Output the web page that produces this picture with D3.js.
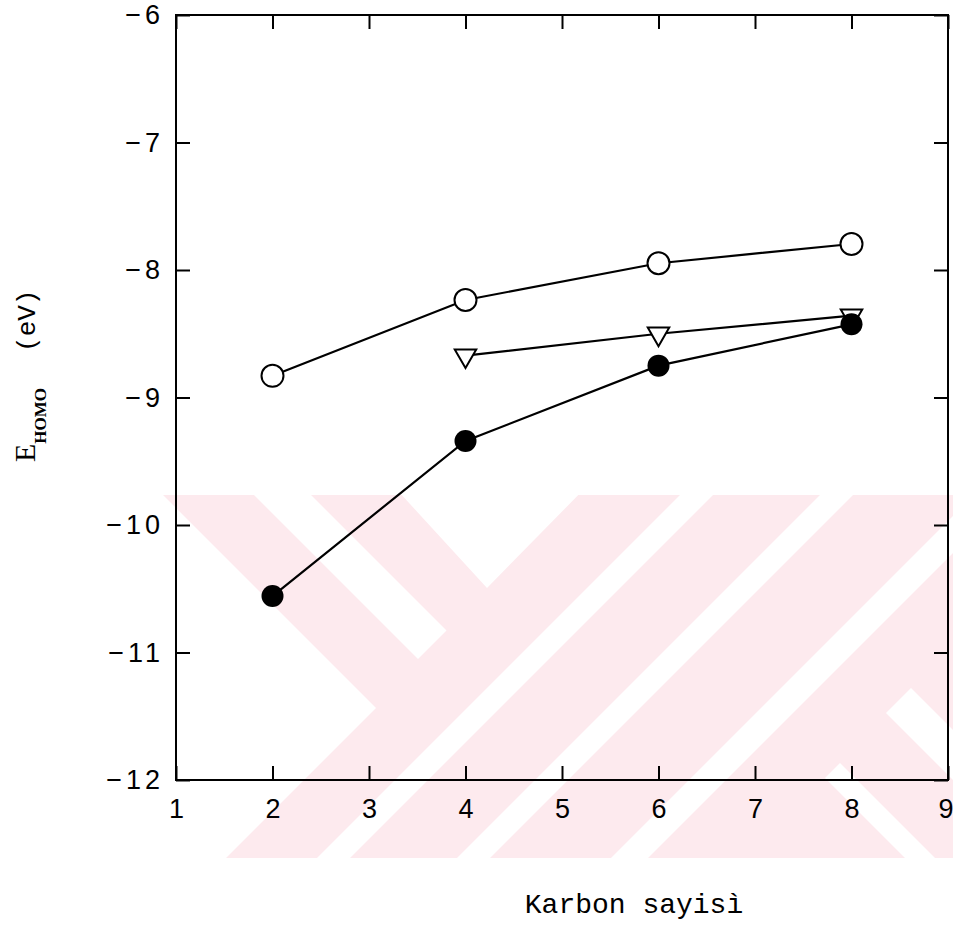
<!DOCTYPE html>
<html><head><meta charset="utf-8">
<script src="https://cdn.jsdelivr.net/npm/d3@7"></script>
<style>body{margin:0;background:#fff}</style>
</head><body><svg id="c" width="953" height="927"></svg>
<script>
// ---- data ----
const openX = [2, 4, 6, 8];
const openY = [-8.83, -8.235, -7.947, -7.796];
const triX = [4, 6, 8];
const triY = [-8.672, -8.50, -8.358];
const filledX = [2, 4, 6, 8];
const filledY = [-10.557, -9.341, -8.75, -8.426];
const xTickValues = [1, 2, 3, 4, 5, 6, 7, 8, 9];
const xTickLabels = ["1", "2", "3", "4", "5", "6", "7", "8", "9"];
const yTickValues = [-12, -11, -10, -9, -8, -7, -6];
const yTickLabels = ["−12", "−11", "−10", "−9", "−8", "−7", "−6"];
const xTitle = "Karbon sayisì";

// ---- layout ----
const svg = d3.select("#c");
const L = 176, R = 948, T = 15, B = 780;
const x = d3.scaleLinear().domain([1, 9]).range([L, R]);
const y = d3.scaleLinear().domain([-12, -6]).range([B, T]);

// ---- watermark (decorative background) ----
const pink = "#fdeaee";
svg.append("clipPath").attr("id", "wm").append("rect")
  .attr("x", 150).attr("y", 495).attr("width", 803).attr("height", 363);
const wm = svg.append("g").attr("clip-path", "url(#wm)");
wm.append("rect").attr("x", 150).attr("y", 495).attr("width", 803).attr("height", 363).attr("fill", pink);
const whiteShapes = [
  [[100,480],[148,480],[376,708],[221,863],[100,863]],
  [[239,480],[296,480],[446.5,630.5],[418,659]],
  [[388,480],[593,480],[487,588]],
  [[695,480],[728,480],[338,870],[305,870]],
  [[835,480],[868,480],[478,870],[445,870]],
  [[989,480],[1026,480],[636,870],[599,870]],
  [[886,713],[911,688],[1011,788],[986,813]],
  [[825,778],[840,763],[1040,963],[1025,978]]
];
wm.selectAll("polygon.w").data(whiteShapes).join("polygon")
  .attr("points", d => d.map(p => p.join(",")).join(" "))
  .attr("fill", "#fff");

// ---- axes ----
const tickFont = "'Liberation Sans', Arial, sans-serif";
const gB = svg.append("g").attr("transform", `translate(0,${B})`)
  .call(d3.axisBottom(x).tickValues(xTickValues).tickFormat((d, i) => xTickLabels[i])
    .tickSizeInner(-14).tickSizeOuter(0).tickPadding(19));
const gT = svg.append("g").attr("transform", `translate(0,${T})`)
  .call(d3.axisTop(x).tickValues(xTickValues).tickFormat("").tickSizeInner(-14).tickSizeOuter(0));
const gL = svg.append("g").attr("transform", `translate(${L},0)`)
  .call(d3.axisLeft(y).tickValues(yTickValues).tickFormat((d, i) => yTickLabels[i])
    .tickSizeInner(-14).tickSizeOuter(0).tickPadding(12));
const gR = svg.append("g").attr("transform", `translate(${R},0)`)
  .call(d3.axisRight(y).tickValues(yTickValues).tickFormat("").tickSizeInner(-14).tickSizeOuter(0));
[gB, gT, gL, gR].forEach(g => {
  g.select(".domain").remove();
  g.selectAll(".tick line").attr("stroke", "#000").attr("stroke-width", 2);
  g.selectAll(".tick text").attr("fill", "#000").style("font-family", tickFont)
    .style("font-size", "27px");
});
gL.selectAll(".tick text").style("letter-spacing", "4px");
// last x label sits at the page edge; keep it inside the page
gB.selectAll(".tick text").filter(d => d === 9).attr("text-anchor", "end").attr("x", 5);
svg.append("rect").attr("x", L).attr("y", T).attr("width", R - L).attr("height", B - T)
  .attr("fill", "none").attr("stroke", "#000").attr("stroke-width", 2);

// ---- series ----
const line = d3.line().x(d => x(d[0])).y(d => y(d[1]));
const openData = openX.map((v, i) => [v, openY[i]]);
const triData = triX.map((v, i) => [v, triY[i]]);
const filledData = filledX.map((v, i) => [v, filledY[i]]);
[openData, triData, filledData].forEach(d => {
  svg.append("path").datum(d).attr("d", line).attr("fill", "none")
    .attr("stroke", "#000").attr("stroke-width", 2.2);
});
svg.selectAll("circle.open").data(openData).join("circle").attr("class", "open")
  .attr("cx", d => x(d[0])).attr("cy", d => y(d[1])).attr("r", 11)
  .attr("fill", "#fff").attr("stroke", "#000").attr("stroke-width", 2);
const tri = d3.symbol().type(d3.symbolTriangle).size(200);
svg.selectAll("path.tri").data(triData).join("path").attr("class", "tri")
  .attr("d", tri)
  .attr("transform", d => `translate(${x(d[0])},${y(d[1])}) rotate(180)`)
  .attr("fill", "#fff").attr("stroke", "#000").attr("stroke-width", 2);
svg.selectAll("circle.filled").data(filledData).join("circle").attr("class", "filled")
  .attr("cx", d => x(d[0])).attr("cy", d => y(d[1])).attr("r", 11)
  .attr("fill", "#000");

// ---- titles ----
svg.append("text").attr("x", 634).attr("y", 913).attr("text-anchor", "middle")
  .style("font-family", "'Liberation Mono', 'Courier New', monospace").style("font-size", "28px")
  .attr("fill", "#000").text(xTitle);
const yt = svg.append("text").attr("transform", "translate(35,462) rotate(-90)")
  .attr("fill", "#000").style("font-family", "'Liberation Serif', 'Times New Roman', serif");
yt.append("tspan").style("font-size", "30px").text("E");
yt.append("tspan").style("font-size", "17px").style("font-weight", "bold").attr("dy", 11).text("HOMO");
yt.append("tspan").style("font-family", "'Liberation Mono', 'Courier New', monospace")
  .style("font-size", "26px").attr("dy", -11).attr("dx", 36).text("(eV)");
</script></body></html>
